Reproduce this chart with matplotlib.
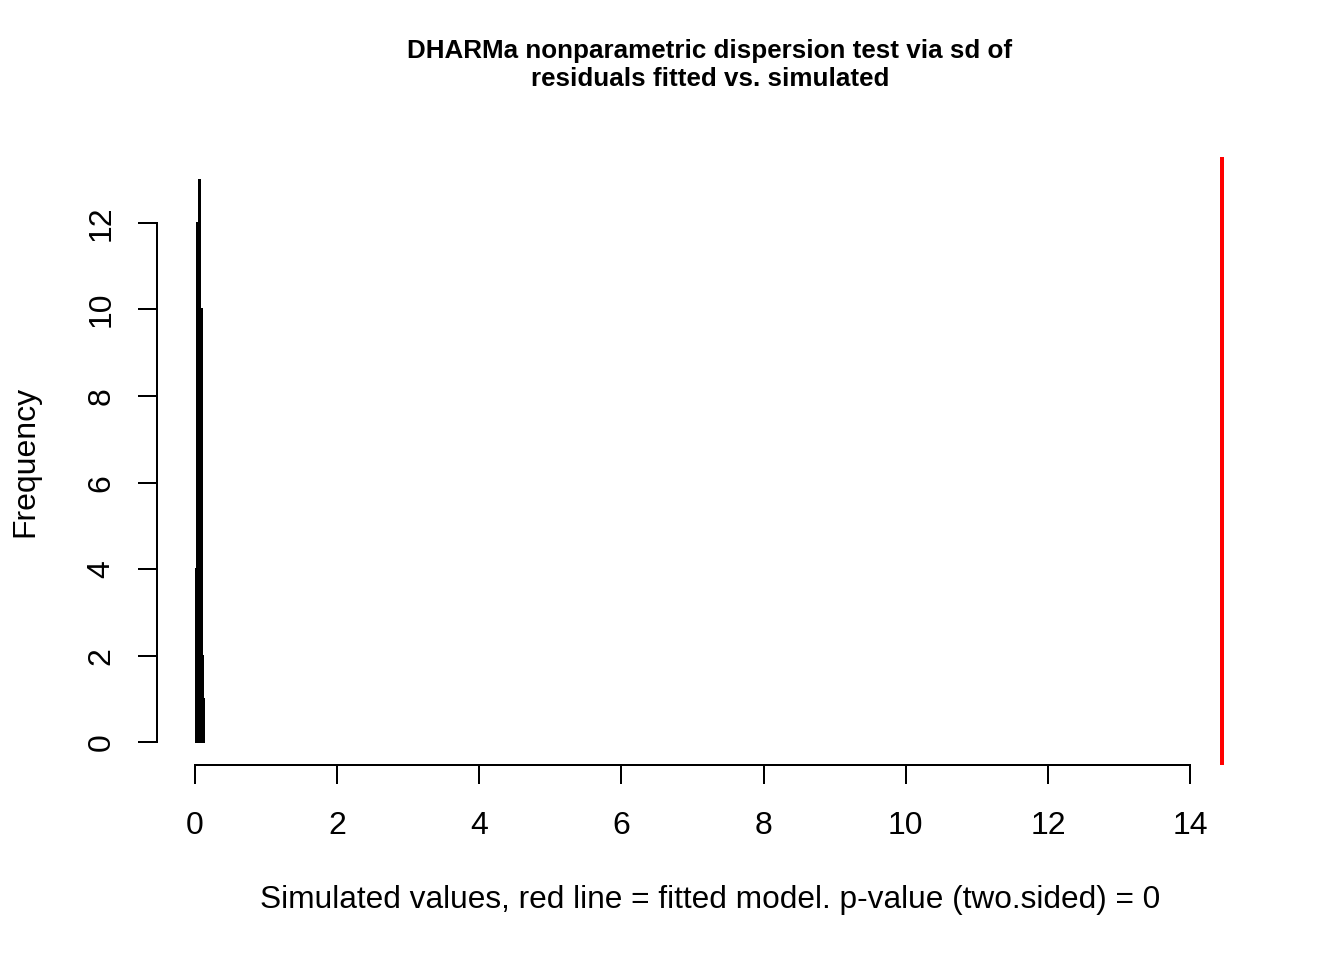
import numpy as np
import matplotlib
matplotlib.use("Agg")
import matplotlib.pyplot as plt

plt.rcParams['font.family'] = ['Liberation Sans', 'DejaVu Sans']

# histogram of simulated sd values (bin edges and counts)
bin_edges = [0.024, 0.038, 0.056, 0.080, 0.098, 0.113, 0.127]
counts = [4, 12, 13, 10, 2, 1]
observed = 14.45   # red line, fitted model

x_ticks = [0, 2, 4, 6, 8, 10, 12, 14]
y_ticks = [0, 2, 4, 6, 8, 10, 12]

fig = plt.figure(figsize=(7, 5), dpi=192)
W, H = 1344, 960
ax = fig.add_axes([157 / W, 1 - 765 / H, (1262 - 157) / W, (765 - 157) / H])

ax.hist(bin_edges[:-1], bins=bin_edges, weights=counts,
        color='black', edgecolor='black', linewidth=0.75)
ax.axvline(observed, color='#ff0000', linewidth=1.5)

ax.set_xlim(-0.53, 15.01)
ax.set_ylim(-0.52, 13.52)

for s in ['top', 'right']:
    ax.spines[s].set_visible(False)
ax.spines['left'].set_bounds(0, 12)
ax.spines['bottom'].set_bounds(0, 14)
for s in ['left', 'bottom']:
    ax.spines[s].set_linewidth(0.75)

ax.set_xticks(x_ticks)
ax.set_yticks(y_ticks)
ax.set_yticklabels([str(t) for t in y_ticks], rotation=90, va='center')
ax.tick_params(axis='both', direction='out', length=7.2, width=0.75,
               labelsize=12)
ax.tick_params(axis='x', pad=10)
ax.tick_params(axis='y', pad=8)

fig.text(25 / W, 1 - 461 / H, 'Frequency', rotation=90, ha='center',
         va='center', fontsize=12)
fig.text(710 / W, 1 - 900 / H,
         'Simulated values, red line = fitted model. p-value (two.sided) = 0',
         ha='center', va='center', fontsize=11.85)
fig.text(710 / W, 1 - 65 / H,
         'DHARMa nonparametric dispersion test via sd of\nresiduals fitted vs. simulated',
         ha='center', va='center', fontsize=9.75, fontweight='bold',
         linespacing=1.2)

fig.savefig('out.png', dpi=192)
